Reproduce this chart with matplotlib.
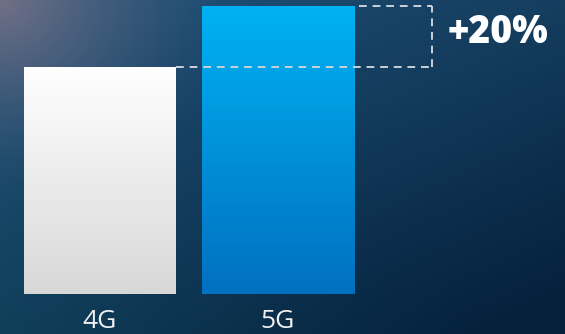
import numpy as np
import matplotlib
matplotlib.use("Agg")
import matplotlib.pyplot as plt
from matplotlib.colors import LinearSegmentedColormap

# data
categories = ["4G", "5G"]
values = [100, 127]
uplift_label = "+20%"

bar_top_colors = ["#ffffff", "#00b2f2"]
bar_bottom_colors = ["#d8d8d8", "#0070c0"]

W, H = 565, 334
fig = plt.figure(figsize=(W / 100, H / 100), dpi=100)

# background gradient (full figure)
bg = fig.add_axes([0, 0, 1, 1])
bg.set_axis_off()
yy, xx = np.mgrid[0:H, 0:W]
t = np.clip((xx / W) * 0.45 + (yy / H) * 0.6, 0, 1)
c0 = np.array([0x22, 0x55, 0x7c]) / 255
c1 = np.array([0x04, 0x20, 0x3b]) / 255
img = c0[None, None, :] * (1 - t[..., None]) + c1[None, None, :] * t[..., None]
# slight teal tint towards the bottom-left
teal = np.clip(yy / H - xx / W, 0, 1) ** 1.5
img[..., 1] += teal * 0.04
img[..., 2] += teal * 0.02
# grayish glow in the top-left corner
r = np.sqrt((xx / 240.0) ** 2 + (yy / 210.0) ** 2)
glow = np.clip(1 - r, 0, 1) ** 1.6
gc = np.array([0x80, 0x74, 0x88]) / 255
img = img * (1 - glow[..., None] * 0.85) + gc[None, None, :] * glow[..., None] * 0.85
img = np.clip(img, 0, 1)
bg.imshow(img, extent=[0, 1, 0, 1], aspect="auto", origin="upper")
bg.set_xlim(0, 1)
bg.set_ylim(0, 1)

ax = fig.add_axes([0, 0, 1, 1])
ax.patch.set_alpha(0)
x = np.arange(len(categories))
width = 152 / 178
bars = ax.bar(x, values, width=width, color="none", edgecolor="none")

ppu = 227 / values[0]

# gradient fills clipped to the bars
for b, ctop, cbot in zip(bars, bar_top_colors, bar_bottom_colors):
    cmap = LinearSegmentedColormap.from_list("g", [cbot, ctop])
    grad = np.linspace(0, 1, 256).reshape(-1, 1)
    im = ax.imshow(grad, cmap=cmap, aspect="auto", origin="lower",
                   extent=[b.get_x(), b.get_x() + b.get_width(), 0, b.get_height()],
                   zorder=2)
    im.set_clip_path(b)

ax.set_xlim(-100 / 178, (W - 100) / 178)
ax.set_ylim(-40 / ppu, (H - 40) / ppu)

# dashed comparison box
box_right = (432 - 100) / 178
dash = dict(color="#c8d2dc", lw=1.4, ls=(0, (4, 3)), zorder=3)
ax.plot([bars[0].get_x() + width, box_right], [values[0], values[0]], **dash)
ax.plot([bars[1].get_x() + width + 0.03, box_right], [values[1], values[1]], **dash)
ax.plot([box_right, box_right], [values[0], values[1]], **dash)

ax.text(box_right + 0.085, (values[0] + values[1]) / 2 + 1.5, uplift_label,
        color="white", fontsize=27, fontweight="heavy", family="Open Sans",
        ha="left", va="center")

for xi, lab in zip(x, categories):
    ax.text(xi, -12.0, lab, color="#f0f0f0", fontsize=19, family="Open Sans",
            ha="center", va="center")

ax.set_axis_off()
fig.savefig("out.png", dpi=100)
